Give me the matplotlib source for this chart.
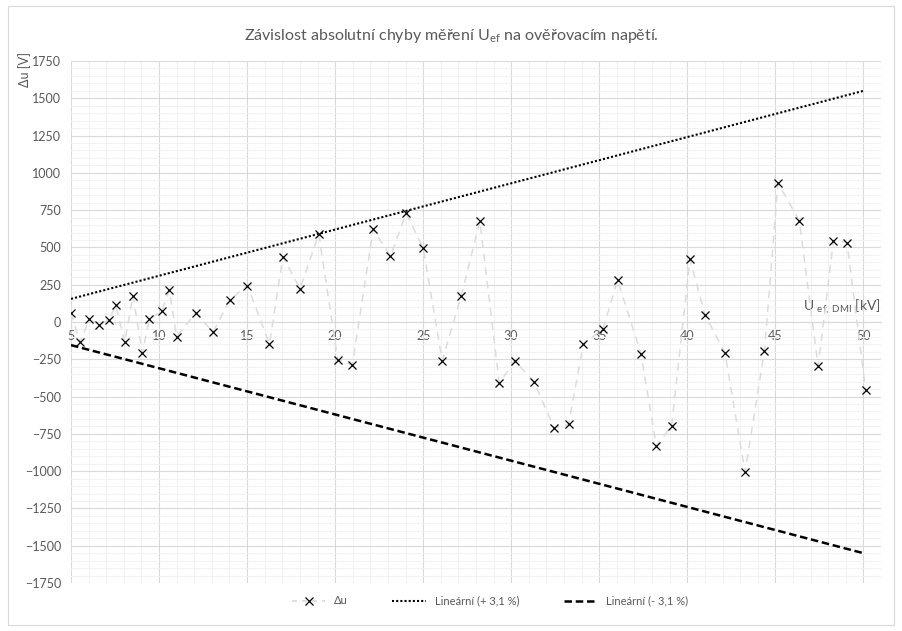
import numpy as np
import matplotlib
matplotlib.use("Agg")
import matplotlib.pyplot as plt
from matplotlib.lines import Line2D
from matplotlib.patches import Rectangle
from matplotlib.ticker import MultipleLocator

plt.rcParams['font.family'] = ['Lato', 'DejaVu Sans']
plt.rcParams['mathtext.fontset'] = 'custom'
plt.rcParams['mathtext.rm'] = 'Lato'
plt.rcParams['mathtext.it'] = 'Lato'

# measured points: verification voltage [kV] and absolute error [V]
u_ef = [5.0, 5.51, 6.04, 6.57, 7.16, 7.54, 8.05, 8.52, 9.05, 9.45,
        10.15, 10.59, 11.0, 12.08, 13.07, 14.03, 15.02, 16.27, 17.03, 18.01,
        19.07, 20.15, 20.98, 22.16, 23.14, 24.03, 25.0, 26.08, 27.16, 28.22,
        29.32, 30.21, 31.29, 32.44, 33.26, 34.1, 35.21, 36.04, 37.37, 38.24,
        39.11, 40.15, 41.0, 42.14, 43.28, 44.38, 45.15, 46.36, 47.43, 48.3,
        49.07, 50.13]
du = [60, -136, 18, -18, 13, 112, -136, 177, -208, 22,
      72, 213, -98, 60, -67, 150, 244, -146, 436, 224,
      590, -253, -286, 622, 441, 729, 495, -260, 174, 676,
      -409, -260, -401, -711, -685, -146, -47, 280, -213, -832,
      -696, 421, 49, -208, -1005, -195, 930, 680, -295, 546,
      532, -458]

# tolerance lines +-3.1 % of the voltage
tol_pct = 3.1
tol_x = [5, 50]

grey = '#595959'

fig = plt.figure(figsize=(9.02, 6.31), dpi=100)
fig.patches.append(Rectangle((8/902, 6/631), 886/902, 619/631, transform=fig.transFigure,
                             fill=False, edgecolor='#d9d9d9', linewidth=0.8))
ax = fig.add_axes([71/902, 1-583/631, 810/902, 522/631])

tx = np.array(tol_x, dtype=float)
ax.plot(tx, tx*tol_pct*10, color='black', linestyle=(0, (1, 1)), linewidth=1.5, zorder=3)
ax.plot(tx, -tx*tol_pct*10, color='black', linestyle=(0, (3, 1.5)), linewidth=1.8, zorder=3)
ax.plot(u_ef, du, color='#dcdcdc', linestyle=(0, (5, 4)), linewidth=1.1,
        marker='x', markersize=6, markeredgecolor='black', markeredgewidth=0.9, zorder=4)

ax.set_xlim(5, 51)
ax.set_ylim(-1750, 1750)
ax.xaxis.set_major_locator(MultipleLocator(5))
ax.xaxis.set_minor_locator(MultipleLocator(1))
ax.yaxis.set_major_locator(MultipleLocator(250))
ax.yaxis.set_minor_locator(MultipleLocator(50))
ax.grid(which='major', color='#d9d9d9', linewidth=0.8)
ax.grid(which='minor', color='#f2f2f2', linewidth=0.8)
ax.set_axisbelow(True)

for s in ['top', 'right', 'left']:
    ax.spines[s].set_visible(False)
ax.spines['bottom'].set_position(('data', 0))
ax.spines['bottom'].set_color('#d9d9d9')
ax.tick_params(axis='both', which='both', length=0, labelcolor=grey, labelsize=9)
ax.tick_params(axis='x', pad=6)
ax.tick_params(axis='y', pad=7)
ax.set_xticks(range(5, 51, 5))
ax.set_xticklabels([str(v) for v in range(5, 51, 5)])

ax.text(51, 40, r'U $_{\mathrm{ef,\ DMI}}$ [kV]', ha='right', va='bottom', color=grey, fontsize=10)
fig.text(25/902, 1-52/631, 'Δu [V]', rotation=90, ha='center', va='top', color=grey, fontsize=9)
fig.text(0.5, 1-36/631, r'Závislost absolutní chyby měření U$_{\mathrm{ef}}$ na ověřovacím napětí.',
         ha='center', va='center', color=grey, fontsize=11.5)

handles = [
    Line2D([], [], color='#d9d9d9', linestyle=(0, (3, 3)), marker='x', markersize=6,
           markeredgecolor='black', markeredgewidth=0.9, linewidth=1.2),
    Line2D([], [], color='black', linestyle=(0, (1, 1)), linewidth=1.5),
    Line2D([], [], color='black', linestyle=(0, (3, 1.5)), linewidth=1.8),
]
labels = ['Δu', 'Lineární (+ 3,1 %)', 'Lineární (- 3,1 %)']
fig.legend(handles, labels, loc='center', bbox_to_anchor=(490/902, 1-601/631), ncol=3,
           frameon=False, fontsize=8, labelcolor=grey, columnspacing=4, handlelength=3)

fig.savefig('out.png', dpi=100)
